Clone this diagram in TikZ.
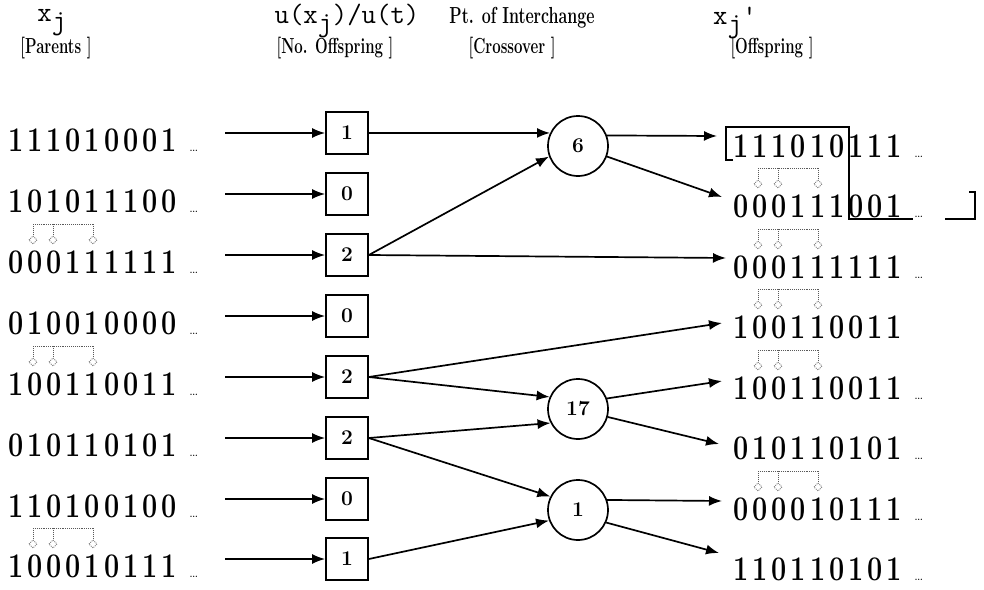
\documentclass[tikz,border=0pt]{standalone}
\usepackage{fontspec}
\usetikzlibrary{arrows.meta}
\makeatletter
\def\bitsloop#1{\ifx#1\relax\else\makebox[19.2pt]{#1}\expandafter\bitsloop\fi}
\makeatother
\newcommand\bits[1]{{\fontsize{27}{27}\selectfont\bfseries\scalebox{1}[1.28]{\bitsloop#1\relax}}}
\newcommand\tdots{\hspace{10pt}{\fontsize{16}{16}\selectfont\ldots}}
\newcommand\tall[1]{\scalebox{1}[1.45]{\bfseries #1}}
\begin{document}
\begin{tikzpicture}[x=1pt,y=-1pt,
  ln/.style={line width=1.7pt},
  arr/.style={line width=1.7pt,-{Latex[length=13pt,width=10pt]}},
  cnt/.style={draw,line width=1.7pt,minimum size=42pt,inner sep=0pt,font=\bfseries\fontsize{21}{21}\selectfont},
  cross/.style={draw,circle,line width=1.7pt,minimum size=60pt,inner sep=0pt,font=\bfseries\fontsize{21}{21}\selectfont},
  str/.style={anchor=base west,inner sep=0pt},
  hdr/.style={inner sep=0pt,font=\ttfamily\fontsize{28}{28}\selectfont},
  sub/.style={inner sep=0pt,font=\fontsize{15}{15}\selectfont},
  schema/.pic={
    \draw[densely dotted,line width=0.9pt,gray!70!black] (27,-49) -- (87,-49);
    \foreach \xx in {27,47,87}{
      \draw[densely dotted,line width=0.9pt,gray!70!black] (\xx,-49) -- (\xx,-39);
      \draw[densely dotted,line width=0.9pt,gray] (\xx-4,-33) -- (\xx,-37) -- (\xx+4,-33) -- (\xx,-29) -- cycle;
    }
  }]
\useasboundingbox (0,0) rectangle (984,589);
% headers
\node[hdr] (h1) at (52,23) {x$_{\texttt{j}}$};
\node[hdr] (h2) at (347,21) {u(x$_{\texttt{j}}$)/u(t)};
\node[inner sep=0pt,font=\fontsize{16}{16}\selectfont] (h3) at (522,18) {\tall{Pt. of Interchange}};
\node[hdr] (h4) at (735,23) {x$_{\texttt{j}}$'};
\node[sub] (h5) at (56,48) {\tall{[Parents ]}};
\node[sub] (h6) at (335,48) {\tall{[No. Offspring ]}};
\node[sub] (h7) at (512,48) {\tall{[Crossover ]}};
\node[sub] (h8) at (772,48) {\tall{[Offspring ]}};
% parents
\node[str] (p1) at (6,151) {\bits{111010001}\tdots};
\node[str] (p2) at (6,212) {\bits{101011100}\tdots};
\node[str] (p3) at (6,273) {\bits{000111111}\tdots};
\node[str] (p4) at (6,334) {\bits{010010000}\tdots};
\node[str] (p5) at (6,395) {\bits{100110011}\tdots};
\node[str] (p6) at (6,456) {\bits{010110101}\tdots};
\node[str] (p7) at (6,517) {\bits{110100100}\tdots};
\node[str] (p8) at (6,577) {\bits{100010111}\tdots};
\pic at (6,273) {schema};
\pic at (6,395) {schema};
\pic at (6,577) {schema};
% arrow starts
\foreach \i/\y in {1/133,2/194,3/255,4/316,5/377,6/438,7/499,8/559}
  \coordinate (s\i) at (225,\y);
% boxes
\node[cnt] (b1) at (347,133) {1};
\node[cnt] (b2) at (347,194) {0};
\node[cnt] (b3) at (347,255) {2};
\node[cnt] (b4) at (347,316) {0};
\node[cnt] (b5) at (347,377) {2};
\node[cnt] (b6) at (347,438) {2};
\node[cnt] (b7) at (347,499) {0};
\node[cnt] (b8) at (347,559) {1};
\foreach \i in {1,...,8} \draw[arr] (s\i) -- (b\i);
% crossover circles
\node[cross] (c6) at (578,146) {6};
\node[cross] (c17) at (578,409) {17};
\node[cross] (c1) at (578,510) {1};
% offspring
\node[str] (o1) at (731,157) {\bits{111010111}\tdots};
\node[str] (o2) at (731,217) {\bits{000111001}\tdots};
\node[str] (o3) at (731,278) {\bits{000111111}\tdots};
\node[str] (o4) at (731,338) {\bits{100110011}};
\node[str] (o5) at (731,399) {\bits{100110011}\tdots};
\node[str] (o6) at (731,459) {\bits{010110101}\tdots};
\node[str] (o7) at (731,520) {\bits{000010111}\tdots};
\node[str] (o8) at (731,580) {\bits{110110101}\tdots};
\pic at (731,217) {schema};
\pic at (731,278) {schema};
\pic at (731,338) {schema};
\pic at (731,399) {schema};
\pic at (731,520) {schema};
% arrow targets
\coordinate (t1) at (717,136);
\coordinate (t2) at (722,197);
\coordinate (t3) at (726,258);
\coordinate (t4) at (722,323);
\coordinate (t5) at (722,381);
\coordinate (t6) at (719,444);
\coordinate (t7) at (722,501);
\coordinate (t8) at (719,553);
% bracket
\draw[line width=1.5pt] (733,160) -- (726,160) -- (726,127) -- (849,127) -- (849,219) -- (913,219);
\draw[line width=1.5pt] (945,219) -- (975,219) -- (975,192) -- (969,192);
% connectors
\draw[arr] (b1.east) -- (c6.155);
\draw[arr] (b3.east) -- (c6.200);
\draw[arr] (c6.20) -- (t1);
\draw[arr] (c6.-20) -- (t2);
\draw[arr] (b3.east) -- (t3);
\draw[arr] (b5.east) -- (t4);
\draw[arr] (b5.east) -- (c17.157);
\draw[arr] (b6.east) -- (c17.207);
\draw[arr] (c17.20) -- (t5);
\draw[arr] (c17.-15) -- (t6);
\draw[arr] (b6.east) -- (c1.154);
\draw[arr] (b8.east) -- (c1.200);
\draw[arr] (c1.19) -- (t7);
\draw[arr] (c1.-24) -- (t8);
\end{tikzpicture}
\end{document}
